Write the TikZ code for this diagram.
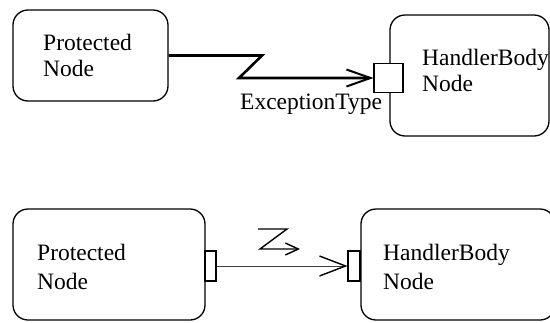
\documentclass[tikz,border=0pt]{standalone}
\usepackage{fontspec}
\setmainfont{Liberation Serif}
\usetikzlibrary{arrows.meta}
\begin{document}
\begin{tikzpicture}[x=1pt,y=-1pt,
  box/.style={draw, line width=1.3pt, rounded corners=15pt, inner sep=0pt},
  lbl/.style={font=\fontsize{23.5}{26}\selectfont, inner sep=0pt, anchor=base west},
  pinbox/.style={draw, line width=1.1pt, fill=white, inner sep=0pt},
  flow/.style={line width=2.6pt, -{Straight Barb[length=24pt,width=17pt,line width=2pt]}},
  plainflow/.style={line width=1pt, draw=black!75, -{Straight Barb[length=26pt,width=20pt,line width=1.4pt,color=black]}},
  bolt/.style={line width=1.4pt, -{Straight Barb[length=13pt,width=12pt]}}]
\useasboundingbox (0,0) rectangle (550,322);

% upper diagram: exception handler with a typed input pin
\node[box, minimum width=155pt, minimum height=91pt] (prot1) at (90.5,55.5) {};
\node[lbl] (prot1a) at (43,50) {Protected};
\node[lbl] (prot1b) at (43,76) {Node};

\node[box, minimum width=159pt, minimum height=121pt] (hand1) at (469.5,75.5) {};
\node[lbl] (hand1a) at (422,65) {HandlerBody};
\node[lbl] (hand1b) at (422,91) {Node};
\node[pinbox, minimum width=29pt, minimum height=29pt] (pin1) at (388.5,78) {};

\coordinate (zz1) at (262,55.5);
\coordinate (zz2) at (239,78);
\draw[flow, line join=miter] (prot1.east) -- (zz1) -- (zz2) -- (pin1.west);
\node[lbl] (extype) at (240,109) {ExceptionType};

% lower diagram: output pin to input pin with an interrupt mark
\node[box, minimum width=192pt, minimum height=111pt] (prot2) at (109,264.5) {};
\node[lbl] (prot2a) at (37,260) {Protected};
\node[lbl] (prot2b) at (37,289) {Node};
\node[pinbox, minimum width=11pt, minimum height=30pt] (pout) at (210.5,266) {};

\node[box, minimum width=194pt, minimum height=111pt] (hand2) at (458,264.5) {};
\node[lbl] (hand2a) at (383,260) {HandlerBody};
\node[lbl] (hand2b) at (383,289) {Node};
\node[pinbox, minimum width=12pt, minimum height=30pt] (pinn) at (354,266) {};

\draw[plainflow] (pout.east) -- (pinn.west);

\coordinate (zb1) at (258,229);
\coordinate (zb2) at (287,229);
\coordinate (zb3) at (260,249);
\coordinate (zb4) at (300,249);
\draw[bolt] (zb1) -- (zb2) -- (zb3) -- (zb4);
\end{tikzpicture}
\end{document}
